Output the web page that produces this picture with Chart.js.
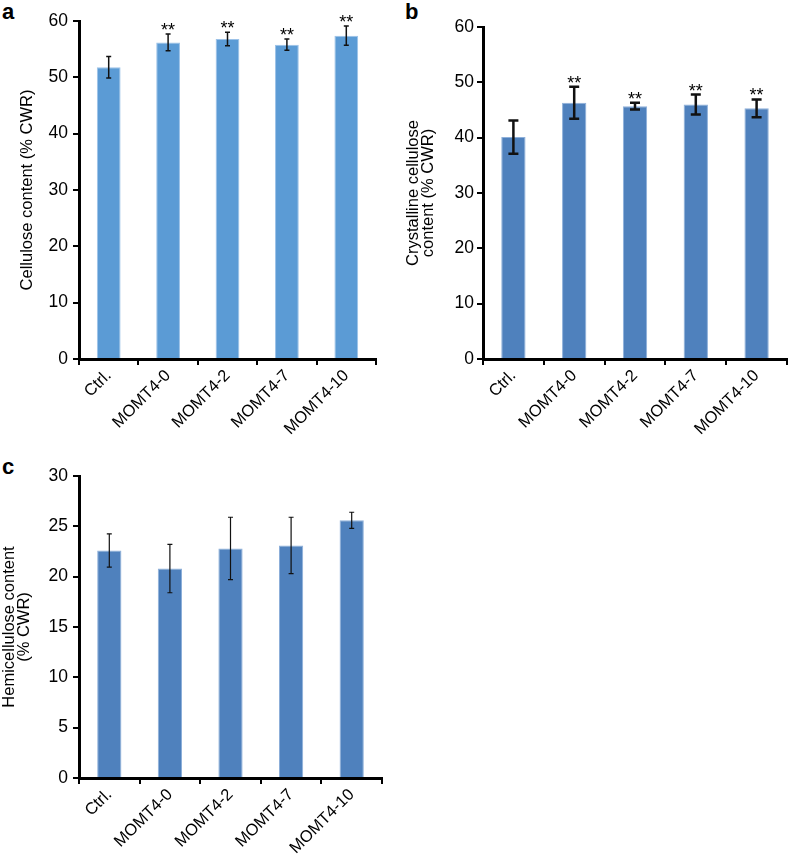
<!DOCTYPE html>
<html>
<head>
<meta charset="utf-8">
<script src="https://cdn.jsdelivr.net/npm/chart.js@4/dist/chart.umd.min.js"></script>
<style>
  body { margin: 0; background: #fff; width: 788px; height: 857px; position: relative; overflow: hidden; }
  canvas { position: absolute; }
  .tag { position: absolute; font: bold 22px 'Liberation Sans', Arial, sans-serif; line-height: 22px; color: #000; }
</style>
</head>
<body>
<div class="tag" style="left:2px;top:1px">a</div>
<div class="tag" style="left:405px;top:1px">b</div>
<div class="tag" style="left:2px;top:456px">c</div>
<canvas id="chart-a" width="394" height="440" style="left:0;top:0"></canvas>
<canvas id="chart-b" width="394" height="440" style="left:394px;top:0"></canvas>
<canvas id="chart-c" width="394" height="437" style="left:0;top:420px"></canvas>
<script>
// data
const categories = ['Ctrl.', 'MOMT4-0', 'MOMT4-2', 'MOMT4-7', 'MOMT4-10'];

const celluloseMean = [51.8, 56.2, 56.8, 55.8, 57.4];
const celluloseErr = [1.9, 1.5, 1.2, 1.0, 1.7];
const celluloseSig = ['', '**', '**', '**', '**'];

const crystallineMean = [40.1, 46.3, 45.7, 46.0, 45.3];
const crystallineErr = [3.0, 2.9, 0.6, 1.8, 1.6];
const crystallineSig = ['', '**', '**', '**', '**'];

const hemiMean = [22.6, 20.8, 22.8, 23.1, 25.6];
const hemiErr = [1.65, 2.4, 3.1, 2.8, 0.8];
const hemiSig = ['', '', '', '', ''];

const FONT = "'Liberation Sans', Arial, sans-serif";

// error bars + significance stars
const errorBarPlugin = {
  id: 'errorBars',
  afterDatasetsDraw(chart, args, opts) {
    const { ctx } = chart;
    const y = chart.scales.y;
    const meta = chart.getDatasetMeta(0);
    const values = chart.data.datasets[0].data;
    ctx.save();
    ctx.strokeStyle = opts.color;
    ctx.lineWidth = opts.lineWidth;
    meta.data.forEach((bar, i) => {
      const top = y.getPixelForValue(values[i] + opts.errors[i]);
      const bot = y.getPixelForValue(values[i] - opts.errors[i]);
      const cx = bar.x;
      const half = opts.capWidth / 2;
      ctx.beginPath();
      ctx.moveTo(cx, top); ctx.lineTo(cx, bot);
      ctx.moveTo(cx - half, top); ctx.lineTo(cx + half, top);
      ctx.moveTo(cx - half, bot); ctx.lineTo(cx + half, bot);
      ctx.stroke();
      if (opts.stars[i]) {
        ctx.fillStyle = '#000';
        ctx.font = '18px ' + FONT;
        ctx.textAlign = 'center';
        ctx.textBaseline = 'alphabetic';
        ctx.fillText(opts.stars[i], cx, top + 2);
      }
    });
    ctx.restore();
  }
};

function makeChart(id, cfg) {
  new Chart(document.getElementById(id), {
    type: 'bar',
    data: {
      labels: categories,
      datasets: [{
        data: cfg.values,
        backgroundColor: cfg.color,
        borderColor: cfg.edge,
        borderWidth: 1,
        categoryPercentage: 1,
        barPercentage: 0.4
      }]
    },
    options: {
      responsive: false,
      animation: false,
      layout: { padding: { top: cfg.top, right: cfg.right, left: 0, bottom: 0 } },
      plugins: {
        legend: { display: false },
        tooltip: { enabled: false },
        errorBars: {
          errors: cfg.errors,
          stars: cfg.stars,
          lineWidth: cfg.errWidth,
          capWidth: cfg.capWidth,
          color: '#111'
        }
      },
      scales: {
        x: {
          afterFit: s => { s.height = cfg.xHeight; },
          border: { display: true, color: '#000', width: 3 },
          grid: { display: true, drawOnChartArea: false, drawTicks: true, tickLength: 6, color: '#000', lineWidth: 2 },
          ticks: {
            color: '#000',
            font: { family: FONT, size: 16.5 },
            minRotation: 45,
            maxRotation: 45,
            autoSkip: false,
            padding: 1
          }
        },
        y: {
          min: 0,
          max: cfg.max,
          afterFit: s => { s.width = cfg.yWidth; },
          border: { display: true, color: '#000', width: 3 },
          grid: { display: true, drawOnChartArea: false, drawTicks: true, tickLength: 6, color: '#000', lineWidth: 2 },
          ticks: {
            stepSize: cfg.step,
            color: '#000',
            font: { family: FONT, size: 17.5 },
            padding: cfg.tickPad
          },
          title: {
            display: true,
            text: cfg.title,
            color: '#000',
            font: { family: FONT, size: 16.5, lineHeight: cfg.titleLH },
            padding: { top: cfg.titlePad, bottom: 0 }
          }
        }
      }
    },
    plugins: [errorBarPlugin]
  });
}

makeChart('chart-a', {
  values: celluloseMean, errors: celluloseErr, stars: celluloseSig,
  color: '#5B9BD5', edge: '#9cc2e8', errWidth: 1.5, capWidth: 5,
  max: 60, step: 10, title: 'Cellulose content (% CWR)', titleLH: 1.2, titlePad: 18,
  top: 21, right: 18, yWidth: 79, xHeight: 81, tickPad: 5
});

makeChart('chart-b', {
  values: crystallineMean, errors: crystallineErr, stars: crystallineSig,
  color: '#4F81BD', edge: '#8eb0da', errWidth: 2.5, capWidth: 10,
  max: 60, step: 10, title: ['Crystalline cellulose', 'content (% CWR)'], titleLH: 0.92, titlePad: 12,
  top: 27, right: 1, yWidth: 89, xHeight: 81, tickPad: 3
});

makeChart('chart-c', {
  values: hemiMean, errors: hemiErr, stars: hemiSig,
  color: '#4F81BD', edge: '#8eb0da', errWidth: 1.2, capWidth: 5,
  max: 30, step: 5, title: ['Hemicellulose content', '(% CWR)'], titleLH: 0.92, titlePad: 2,
  top: 56, right: 12, yWidth: 79, xHeight: 79, tickPad: 5
});
</script>
</body>
</html>
